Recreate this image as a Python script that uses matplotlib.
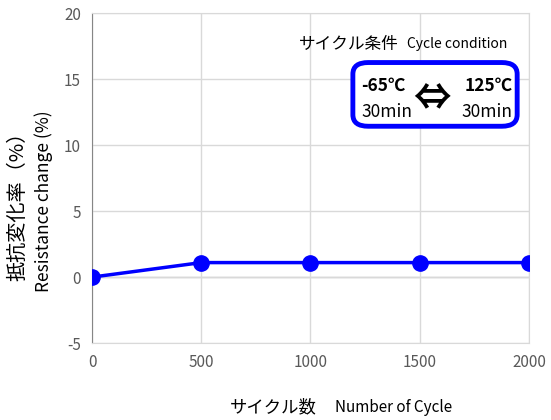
import numpy as np
import matplotlib.pyplot as plt
from matplotlib.patches import FancyBboxPatch

plt.rcParams['font.family'] = ['Noto Sans CJK JP', 'DejaVu Sans']
plt.rcParams['axes.unicode_minus'] = False

# data
cycles = [0, 500, 1000, 1500, 2000]
change = [0.0, 1.1, 1.1, 1.1, 1.1]
xticks = [0, 500, 1000, 1500, 2000]
yticks = [-5, 0, 5, 10, 15, 20]

fig = plt.figure(figsize=(5.51, 4.2), dpi=100)
ax = fig.add_axes([0.167, 0.183, 0.793, 0.786])

ax.plot(cycles, change, color='#0000ff', lw=2.5, marker='o', ms=11, zorder=3)

ax.set_xlim(0, 2000)
ax.set_ylim(-5, 20)
ax.set_xticks(xticks)
ax.set_yticks(yticks)
ax.grid(True, color='#d9d9d9', lw=1)
ax.tick_params(length=0, labelsize=11, labelcolor='#595959', pad=8)
for s in ax.spines.values():
    s.set_color('#d9d9d9')
ax.spines['left'].set_color('#868686')
ax.axhline(0, color='#bfbfbf', lw=1, zorder=1)

# axis labels
fig.text(0.033, 0.52, '抵抗変化率（%）', rotation=90, ha='center', va='center',
         fontsize=14.5)
fig.text(0.08, 0.52, 'Resistance change (%)', rotation=90, ha='center', va='center',
         fontsize=12.5)
fig.text(0.418, 0.03, 'サイクル数', ha='left', va='center', fontsize=12.5)
fig.text(0.608, 0.03, 'Number of Cycle', ha='left', va='center', fontsize=11)

# cycle condition
ax.text(0.473, 0.905, 'サイクル条件', transform=ax.transAxes, fontsize=12,
        ha='left', va='center')
ax.text(0.72, 0.905, 'Cycle condition', transform=ax.transAxes, fontsize=10,
        ha='left', va='center')
box = FancyBboxPatch((0.597, 0.657), 0.376, 0.193, transform=ax.transAxes,
                     boxstyle='round,pad=0,rounding_size=0.035', fc='white',
                     ec='#0000ff', lw=3.5, zorder=4)
ax.add_patch(box)
ax.text(0.617, 0.78, '-65℃', transform=ax.transAxes, fontsize=12.5, weight='bold',
        ha='left', va='center', zorder=5)
ax.text(0.617, 0.70, '30min', transform=ax.transAxes, fontsize=12.5,
        ha='left', va='center', zorder=5)
ax.text(0.962, 0.78, '125℃', transform=ax.transAxes, fontsize=12.5, weight='bold',
        ha='right', va='center', zorder=5)
ax.text(0.962, 0.70, '30min', transform=ax.transAxes, fontsize=12.5,
        ha='right', va='center', zorder=5)
ax.text(0.777, 0.74, '⇔', transform=ax.transAxes, fontsize=27, weight='bold',
        ha='center', va='center', zorder=5)

fig.savefig('out.png', dpi=100)
